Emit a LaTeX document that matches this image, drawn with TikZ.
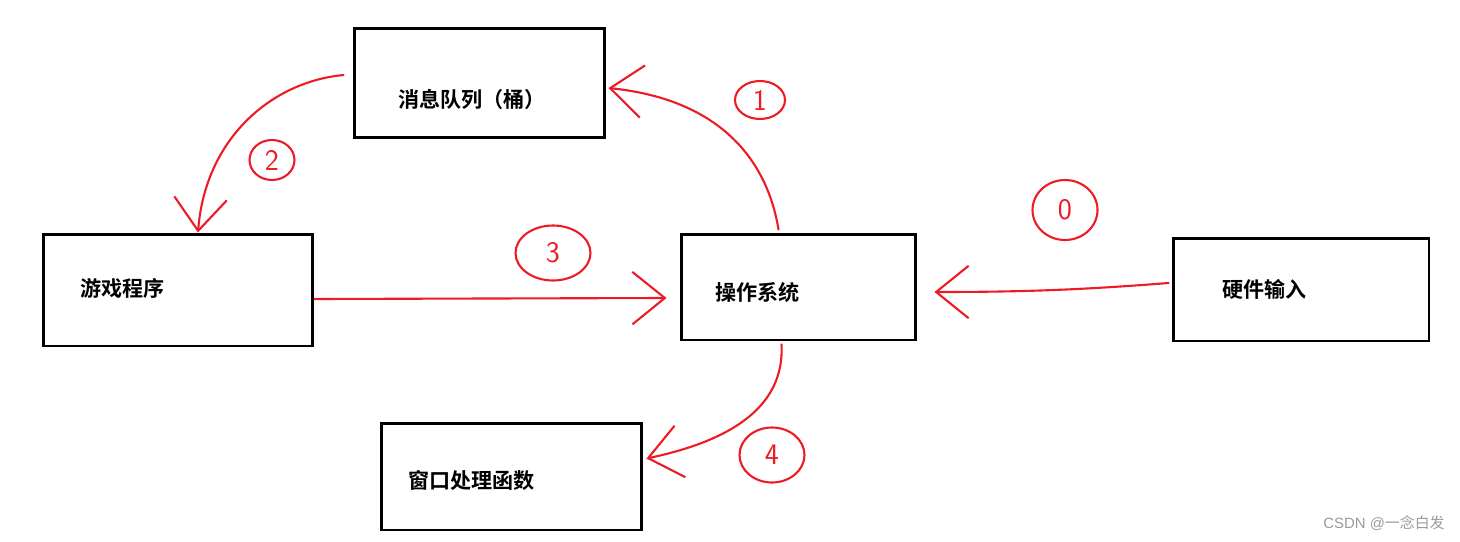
\documentclass[tikz,border=0pt]{standalone}
\usepackage{fontspec}
\setmainfont{Liberation Sans}
\newfontfamily\cjk{Noto Sans CJK SC}
\newfontfamily\cjkb{Noto Sans CJK SC Bold}
\usetikzlibrary{arrows.meta,shapes.geometric}
\definecolor{pen}{HTML}{ED1C24}
\definecolor{wm}{HTML}{9A9A9A}
\tikzset{
  box/.style={draw=black, line width=1.7pt, rectangle, inner sep=0pt},
  lbl/.style={anchor=west, inner sep=0pt, font=\cjkb\fontsize{12}{14}\selectfont},
  redline/.style={draw=pen, line width=1.2pt, line cap=round, line join=round},
  redarrow/.style={redline, -{Straight Barb[length=0.65cm, width=1.05cm, line width=1.2pt]}},
  circnum/.style={draw=pen, line width=1.2pt, ellipse, inner sep=0pt, text=pen,
    font=\sffamily\fontsize{17}{18}\selectfont},
}
\begin{document}
\begin{tikzpicture}[x=0.02cm, y=-0.02cm]
\useasboundingbox (0,0) rectangle (1460,541);
% boxes
\node[box, minimum width=5.02cm, minimum height=2.2cm] (mq) at (479.5,83) {};
\node[box, minimum width=5.4cm, minimum height=2.24cm] (game) at (178,290) {};
\node[box, minimum width=4.7cm, minimum height=2.12cm] (os) at (798.5,287) {};
\node[box, minimum width=5.12cm, minimum height=2.06cm] (hw) at (1301,289.5) {};
\node[box, minimum width=5.22cm, minimum height=2.14cm] (win) at (511.5,476.5) {};
% labels
\node[lbl] (mqt) at (398,99) {消息队列（桶）};
\node[lbl] (gamet) at (80,288) {游戏程序};
\node[lbl] (ost) at (715,292) {操作系统};
\node[lbl] (hwt) at (1222,289) {硬件输入};
\node[lbl] (wint) at (408,480) {窗口处理函数};
% connectors
\draw[redarrow] ([xshift=-0.4cm,yshift=0.06cm]os.north) .. controls (768,165) and (725,100) .. ([xshift=0.04cm,yshift=-0.1cm]mq.east);
\draw[redarrow] ([xshift=-0.18cm,yshift=0.16cm]mq.west) .. controls (270,82) and (205,140) .. ([xshift=0.4cm]game.north);
\draw[redarrow] ([yshift=-0.18cm]game.east) -- ([xshift=-0.26cm,yshift=-0.22cm]os.west);
\draw[redarrow] ([xshift=-0.34cm,yshift=-0.06cm]os.south) .. controls (785,410) and (725,442) .. ([xshift=0.06cm,yshift=0.36cm]win.east);
\draw[redarrow] ([xshift=-0.06cm,yshift=0.13cm]hw.west) .. controls (1080,290) and (1020,292) .. ([xshift=0.34cm,yshift=-0.1cm]os.east);
% circled numbers
\node[circnum, minimum width=1.0cm, minimum height=0.76cm] (n1) at (760,100) {1};
\node[circnum, minimum width=0.9cm, minimum height=0.8cm] (n2) at (272,160) {2};
\node[circnum, minimum width=1.5cm, minimum height=1.1cm] (n3) at (553,253) {3};
\node[circnum, minimum width=1.3cm, minimum height=1.1cm] (n4) at (772,455) {4};
\node[circnum, minimum width=1.3cm, minimum height=1.2cm] (n0) at (1065,210) {0};
% watermark
\node[anchor=east, inner sep=0pt, text=wm, font=\fontsize{8.5}{10}\selectfont] (wmk) at (1445,523) {CSDN @{\cjk 一念白发}};
\end{tikzpicture}
\end{document}
